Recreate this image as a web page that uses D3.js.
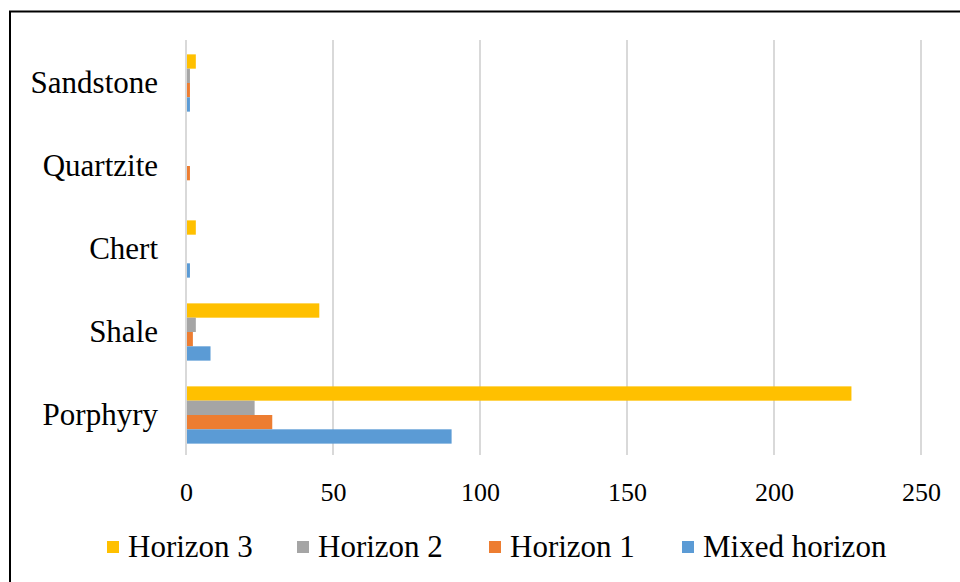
<!DOCTYPE html>
<html>
<head>
<meta charset="utf-8">
<script src="https://cdn.jsdelivr.net/npm/d3@7"></script>
<style>
  html, body { margin: 0; padding: 0; background: #fff; }
  svg { display: block; }
  text { font-family: "Liberation Serif", "Times New Roman", serif; fill: #000; }
</style>
</head>
<body>
<svg id="chart" width="960" height="582"></svg>
<script>
// Rock types (top to bottom on the chart)
const categories = ["Sandstone", "Quartzite", "Chert", "Shale", "Porphyry"];

// Counts per horizon, in the same order as categories
const horizon3 = [3, 0, 3, 45, 226];
const horizon2 = [1, 0, 0, 3, 23];
const horizon1 = [1, 1, 0, 2, 29];
const mixedHorizon = [1, 0, 1, 8, 90];

const seriesNames = ["Horizon 3", "Horizon 2", "Horizon 1", "Mixed horizon"];
const seriesColors = ["#FFC000", "#A5A5A5", "#ED7D31", "#5B9BD5"];
const xTicks = [0, 50, 100, 150, 200, 250];

const series = [horizon3, horizon2, horizon1, mixedHorizon].map((values, i) => ({
  name: seriesNames[i],
  color: seriesColors[i],
  values
}));

const svg = d3.select("#chart");

// Frame lines (top and left)
svg.append("path")
  .attr("d", "M10,582 L10,11.5 L960,11.5")
  .attr("fill", "none")
  .attr("stroke", "#000")
  .attr("stroke-width", 2);

const plot = { left: 186, right: 921, top: 40, bottom: 455 };

const x = d3.scaleLinear().domain([0, 250]).range([plot.left, plot.right]);
const y = d3.scaleBand().domain(categories).range([plot.top + 1.5, plot.bottom + 1.5])
  .paddingInner(0.31).paddingOuter(0.155);
const ySub = d3.scaleBand().domain(seriesNames).range([0, y.bandwidth()]);

// Vertical gridlines
svg.append("g")
  .selectAll("line")
  .data(xTicks)
  .join("line")
  .attr("x1", d => x(d)).attr("x2", d => x(d))
  .attr("y1", plot.top).attr("y2", plot.bottom)
  .attr("stroke", "#d9d9d9")
  .attr("stroke-width", 2);

// Bars
const groups = svg.append("g")
  .selectAll("g")
  .data(categories)
  .join("g")
  .attr("transform", d => `translate(0,${y(d)})`);

groups.selectAll("rect")
  .data((c, ci) => series.map(s => ({ name: s.name, color: s.color, value: s.values[ci] })))
  .join("rect")
  .attr("x", x(0) + 1)
  .attr("y", d => ySub(d.name))
  .attr("width", d => Math.max(0, x(d.value) - x(0)))
  .attr("height", ySub.bandwidth())
  .attr("fill", d => d.color);

// X axis tick labels
const xAxis = d3.axisBottom(x).tickValues(xTicks).tickSize(0).tickPadding(0);
const gx = svg.append("g")
  .attr("transform", `translate(0,${plot.bottom})`)
  .call(xAxis);
gx.select(".domain").remove();
gx.selectAll("text")
  .attr("dy", 0)
  .attr("y", 46)
  .style("font-family", "Liberation Serif, serif")
  .style("font-size", "26px")
  .attr("fill", "#000");

// Category labels
const yAxis = d3.axisLeft(y).tickSize(0).tickPadding(0);
const gy = svg.append("g")
  .attr("transform", `translate(158,0)`)
  .call(yAxis);
gy.select(".domain").remove();
gy.selectAll("text")
  .attr("dy", 0)
  .attr("x", 0)
  .attr("y", 10)
  .style("font-family", "Liberation Serif, serif")
  .style("font-size", "31px")
  .attr("fill", "#000");

// Legend
const legendX = [107, 297, 489, 682];
const legend = svg.append("g")
  .selectAll("g")
  .data(series)
  .join("g")
  .attr("transform", (d, i) => `translate(${legendX[i]},547)`);
legend.append("rect")
  .attr("x", 0).attr("y", -6)
  .attr("width", 12).attr("height", 12)
  .attr("fill", d => d.color);
legend.append("text")
  .attr("x", 21).attr("y", 10)
  .style("font-size", "31px")
  .text(d => d.name);
</script>
</body>
</html>
